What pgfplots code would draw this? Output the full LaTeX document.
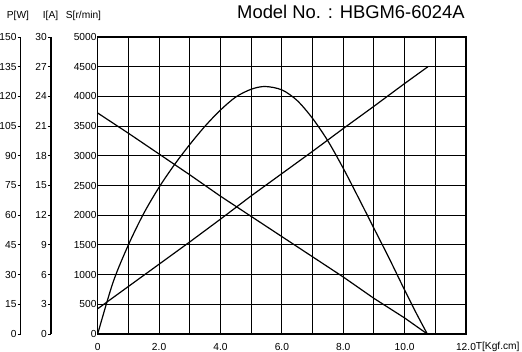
\documentclass[border=0pt]{standalone}
\usepackage{pgfplots}
\pgfplotsset{compat=1.18}
\usepackage{fontspec}
\setmainfont{Liberation Sans}

\pgfplotsset{
  myax/.style={scale only axis, width=368.3pt, height=297pt, xmin=0, xmax=12, at={(0pt,0pt)}, anchor=south west},
  sidescale/.style={scale only axis, width=5pt, height=297pt, anchor=south west,
    xmin=0, xmax=1, axis x line=none, axis y line=left,
    y axis line style={-, line width=1.1pt, black},
    tick align=outside, major tick length=3pt,
    tick style={black, line width=0.9pt},
    yticklabel style={inner sep=1pt},
    /pgf/number format/assume math mode=true},
}

\begin{document}
\begin{tikzpicture}[font=\fontsize{10.2}{12}\selectfont]
\path[use as bounding box] (-97.7pt,-18pt) rectangle (424.3pt,334pt);

% main speed axis with grid
\begin{axis}[myax, ymin=0, ymax=5000,
  xtick={0,1,...,12},
  xticklabels={0,,2.0,,4.0,,6.0,,8.0,,10.0,,12.0},
  ytick={0,500,...,5000},
  grid=major, major grid style={black, line width=1pt},
  axis line style={black, line width=1.2pt},
  major tick length=0pt,
  /pgf/number format/assume math mode=true,
  scaled y ticks=false,
  yticklabel style={inner sep=1pt, /pgf/number format/1000 sep={}},
  xticklabel style={yshift=-5.5pt},
  clip=false]
\addplot[black, line width=1.2pt] coordinates {
 (0,3720) (1,3380) (2,3030) (3,2680) (4,2320) (5,1980) (6,1640) (7,1300) (8,960) (9,600) (10,270) (10.74,0)};
\end{axis}

% power overlay
\begin{axis}[myax, ymin=0, ymax=150, hide axis]
\addplot[black, line width=1.2pt, smooth] coordinates {
 (0,0) (0.5,26.1) (1.0,45) (1.5,60.9) (2.0,74.1) (2.5,85.5) (3.0,95.7) (3.5,105)
 (4.0,113.1) (4.5,119.7) (5.0,123.6) (5.45,125) (6.0,123.3) (6.5,117.9) (7.0,108.9) (7.5,97.5) (8.0,83.7)
 (8.5,68.7) (9.0,53.4) (9.5,38.1) (10.0,22.2) (10.4,9.9) (10.74,0)};
\end{axis}

% current overlay
\begin{axis}[myax, ymin=0, ymax=30, hide axis]
\addplot[black, line width=1.2pt] coordinates {
 (0,2.55) (1,4.8) (2,7.05) (3,9.3) (4,11.6) (5,13.95) (6,16.2) (7,18.45) (8,20.75) (9,23.0) (10,25.3) (10.76,27.0)};
\end{axis}

% P scale
\begin{axis}[sidescale, at={(-77pt,0pt)}, ymin=0, ymax=150, ytick={0,15,...,150}]
\end{axis}
% I scale
\begin{axis}[sidescale, at={(-46.7pt,0pt)}, ymin=0, ymax=30, ytick={0,3,...,30}]
\end{axis}

\node[anchor=base west, inner sep=0pt] at (-91pt,315.5pt) {P[W]};
\node[anchor=base west, inner sep=0pt] at (-55pt,315.5pt) {I[A]};
\node[anchor=base west, inner sep=0pt] at (-32pt,315.5pt) {S[r/min]};
\node[anchor=base west, inner sep=0pt, font=\fontsize{18.4}{22}\selectfont] at (139.3pt,315.5pt) {Model No. : HBGM6-6024A};
\node[anchor=base west, inner sep=0pt] at (378pt,-15.5pt) {T[Kgf.cm]};
\end{tikzpicture}
\end{document}
